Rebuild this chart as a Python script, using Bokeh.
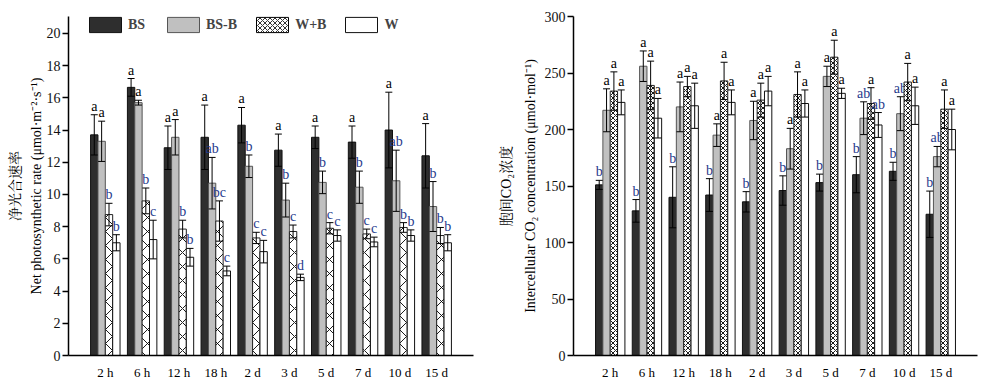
from bokeh.plotting import figure
from bokeh.models import (Range1d, FixedTicker, Whisker, TeeHead, ColumnDataSource,
                          Legend, LegendItem)
from bokeh.layouts import row
from bokeh.embed import file_html
from bokeh.resources import INLINE
from bokeh.core.properties import value

# ---------------- data ----------------
categories = ["2 h", "6 h", "12 h", "18 h", "2 d", "3 d", "5 d", "7 d", "10 d", "15 d"]
series_names = ["BS", "BS-B", "W+B", "W"]

# Net photosynthetic rate
pn_bs = [13.7, 16.65, 12.9, 13.55, 14.3, 12.75, 13.55, 13.25, 14.0, 12.4]
pn_bs_err = [1.25, 0.55, 1.35, 2.0, 1.1, 1.0, 0.7, 1.0, 2.35, 2.0]
pn_bsb = [13.3, 15.7, 13.55, 10.7, 11.75, 9.65, 10.75, 10.45, 10.85, 9.25]
pn_bsb_err = [1.25, 0.15, 1.1, 1.6, 0.7, 1.05, 0.7, 1.0, 1.9, 1.55]
pn_wb = [8.75, 9.6, 7.85, 8.35, 7.3, 7.7, 7.9, 7.55, 7.95, 7.45]
pn_wb_err = [0.7, 0.8, 0.55, 1.25, 0.35, 0.4, 0.35, 0.3, 0.3, 0.5]
pn_w = [7.0, 7.2, 6.1, 5.25, 6.45, 4.85, 7.45, 7.05, 7.45, 7.0]
pn_w_err = [0.5, 1.2, 0.55, 0.3, 0.7, 0.2, 0.35, 0.3, 0.35, 0.5]
pn_bs_sig = ["a", "a", "a", "a", "a", "a", "a", "a", "a", "a"]
pn_bsb_sig = ["a", "a", "a", "ab", "b", "b", "b", "b", "ab", "b"]
pn_wb_sig = ["b", "b", "b", "bc", "c", "c", "c", "c", "b", "b"]
pn_w_sig = ["b", "c", "b", "c", "c", "d", "c", "c", "b", "b"]

# Intercellular CO2 concentration
ci_bs = [151, 128, 140, 142, 136, 146, 153, 160, 163, 125]
ci_bs_err = [4, 10, 27, 14.5, 9, 13, 7.5, 16, 8, 20.5]
ci_bsb = [217, 256, 220, 195, 208, 183, 247, 210, 214, 176]
ci_bsb_err = [19, 13.5, 22, 10, 17, 18, 9, 14.5, 15, 9]
ci_wb = [234, 239, 238, 243, 226, 231, 264, 223, 242, 218]
ci_wb_err = [17, 21.5, 9, 16.5, 15, 20, 15, 14, 16.5, 17]
ci_w = [224, 210, 221, 224, 234, 223, 232, 204, 221, 200]
ci_w_err = [11, 17.5, 20, 11, 13, 12, 4.5, 11, 16.5, 18]
ci_bs_sig = ["b", "b", "b", "b", "b", "b", "b", "b", "b", "b"]
ci_bsb_sig = ["a", "a", "a", "a", "a", "a", "a", "ab", "ab", "ab"]
ci_wb_sig = ["a", "a", "a", "a", "a", "a", "a", "a", "a", "a"]
ci_w_sig = ["a", "a", "a", "a", "a", "a", "a", "ab", "a", "a"]

y_ticks_pn = [0, 2, 4, 6, 8, 10, 12, 14, 16, 18, 20]
y_ticks_ci = [0, 50, 100, 150, 200, 250, 300]

# ---------------- style ----------------
SERIF = "'Liberation Serif', 'Noto Serif CJK SC', 'Noto Sans CJK SC', serif"
fills = ["#2e2e2e", "#c0c0c0", "white", "white"]
outlines = ["#111111", "#555555", "#222222", "#111111"]
offsets = [-0.3, -0.1, 0.1, 0.3]
BW = 0.2
NAVY = "#1f3a8c"


def make_panel(vals, errs, sigs, ylab, y_end, yticks, width, min_left, min_right,
               top_border, hatch_scale, with_legend, label_line_height, label_standoff):
    p = figure(width=width, height=392, output_backend="svg", toolbar_location=None,
               x_range=Range1d(0, 11), y_range=Range1d(0, y_end),
               min_border_left=min_left, min_border_right=min_right,
               min_border_top=top_border, min_border_bottom=392 - 355)
    p.outline_line_color = None
    p.grid.visible = False
    p.background_fill_color = "white"
    p.border_fill_color = "white"

    xs = list(range(1, len(categories) + 1))
    renderers = []
    for k in range(4):
        bx = [x + offsets[k] for x in xs]
        src = ColumnDataSource(dict(
            x=bx, top=vals[k],
            upper=[v + e for v, e in zip(vals[k], errs[k])],
            lower=[v - e for v, e in zip(vals[k], errs[k])],
            sig=sigs[k],
            color=["black" if s == "a" else NAVY for s in sigs[k]],
        ))
        kw = {}
        if k == 2:
            kw = dict(hatch_pattern="diagonal_cross", hatch_color="black",
                      hatch_scale=hatch_scale, hatch_weight=0.9)
        r = p.vbar(x="x", top="top", width=BW, bottom=0, source=src,
                   fill_color=fills[k], line_color=outlines[k], line_width=1, **kw)
        renderers.append(r)
        w = Whisker(base="x", upper="upper", lower="lower", source=src,
                    line_color="black", line_width=1, level="overlay",
                    upper_head=TeeHead(size=7, line_color="black", line_width=1),
                    lower_head=TeeHead(size=7, line_color="black", line_width=1))
        p.add_layout(w)
        p.text(x="x", y="upper", text="sig", source=src, text_align="center",
               text_baseline="bottom", y_offset=-1, text_color="color",
               text_font=value("Liberation Serif"), text_font_size="14px")

    # x axis
    xa = p.xaxis[0]
    xa.ticker = FixedTicker(ticks=xs)
    xa.major_label_overrides = {x: c for x, c in zip(xs, categories)}
    xa.major_tick_out = 0
    xa.major_tick_in = 0
    xa.minor_tick_out = 0
    xa.minor_tick_in = 0
    xa.axis_line_width = 1.5
    xa.axis_line_color = "black"
    xa.major_label_text_font = SERIF
    xa.major_label_text_font_size = "13px"
    xa.major_label_text_color = "black"
    xa.major_label_standoff = 9

    ya = p.yaxis[0]
    ya.ticker = FixedTicker(ticks=yticks)
    ya.major_tick_out = 6
    ya.major_tick_in = 0
    ya.minor_tick_out = 0
    ya.minor_tick_in = 0
    ya.major_tick_line_width = 1.5
    ya.axis_line_width = 1.5
    ya.axis_line_color = "black"
    ya.major_label_text_font = SERIF
    ya.major_label_text_font_size = "14px"
    ya.major_label_text_color = "#111111"
    ya.major_label_standoff = 2
    ya.axis_label = ylab
    ya.axis_label_text_font = SERIF
    ya.axis_label_text_font_style = "normal"
    ya.axis_label_text_font_size = "14px"
    ya.axis_label_text_color = "black"
    ya.axis_label_text_line_height = label_line_height
    ya.axis_label_standoff = label_standoff

    if with_legend:
        # legend-only patch for W+B with fine cross-hatch (not visible in plot)
        leg_src = ColumnDataSource(dict(x=[float("nan")], top=[float("nan")]))
        r_leg = p.vbar(x="x", top="top", width=BW, source=leg_src, fill_color="white",
                       line_color="black", hatch_pattern="diagonal_cross",
                       hatch_color="black", hatch_scale=5, hatch_weight=0.8)
        items = [LegendItem(label=series_names[0], renderers=[renderers[0]]),
                 LegendItem(label=series_names[1], renderers=[renderers[1]]),
                 LegendItem(label=series_names[2], renderers=[r_leg]),
                 LegendItem(label=series_names[3], renderers=[renderers[3]])]
        leg = Legend(items=items, orientation="horizontal", location=(17, 321),
                     glyph_width=40, glyph_height=19, label_standoff=3, spacing=15,
                     padding=0, margin=0, border_line_alpha=0,
                     background_fill_alpha=0, label_text_font=SERIF,
                     label_text_font_size="14px", label_text_font_style="bold",
                     label_height=19)
        p.add_layout(leg, "center")
    return p


p1 = make_panel([pn_bs, pn_bsb, pn_wb, pn_w], [pn_bs_err, pn_bsb_err, pn_wb_err, pn_w_err],
                [pn_bs_sig, pn_bsb_sig, pn_wb_sig, pn_w_sig],
                "净光合速率\nNet photosynthetic rate (μmol·m⁻²·s⁻¹)",
                21.05, y_ticks_pn, 490, 68, 17, 15, 14, True, 1.4, 0)
p2 = make_panel([ci_bs, ci_bsb, ci_wb, ci_w], [ci_bs_err, ci_bsb_err, ci_wb_err, ci_w_err],
                [ci_bs_sig, ci_bsb_sig, ci_wb_sig, ci_w_sig],
                "胞间CO₂浓度\nIntercellular CO₂ concentration (μmol·mol⁻¹)",
                300, y_ticks_ci, 505, 83, 18, 16, 5, False, 1.6, 4)

layout = row(p1, p2)
open("out.html", "w").write(file_html(layout, INLINE))
